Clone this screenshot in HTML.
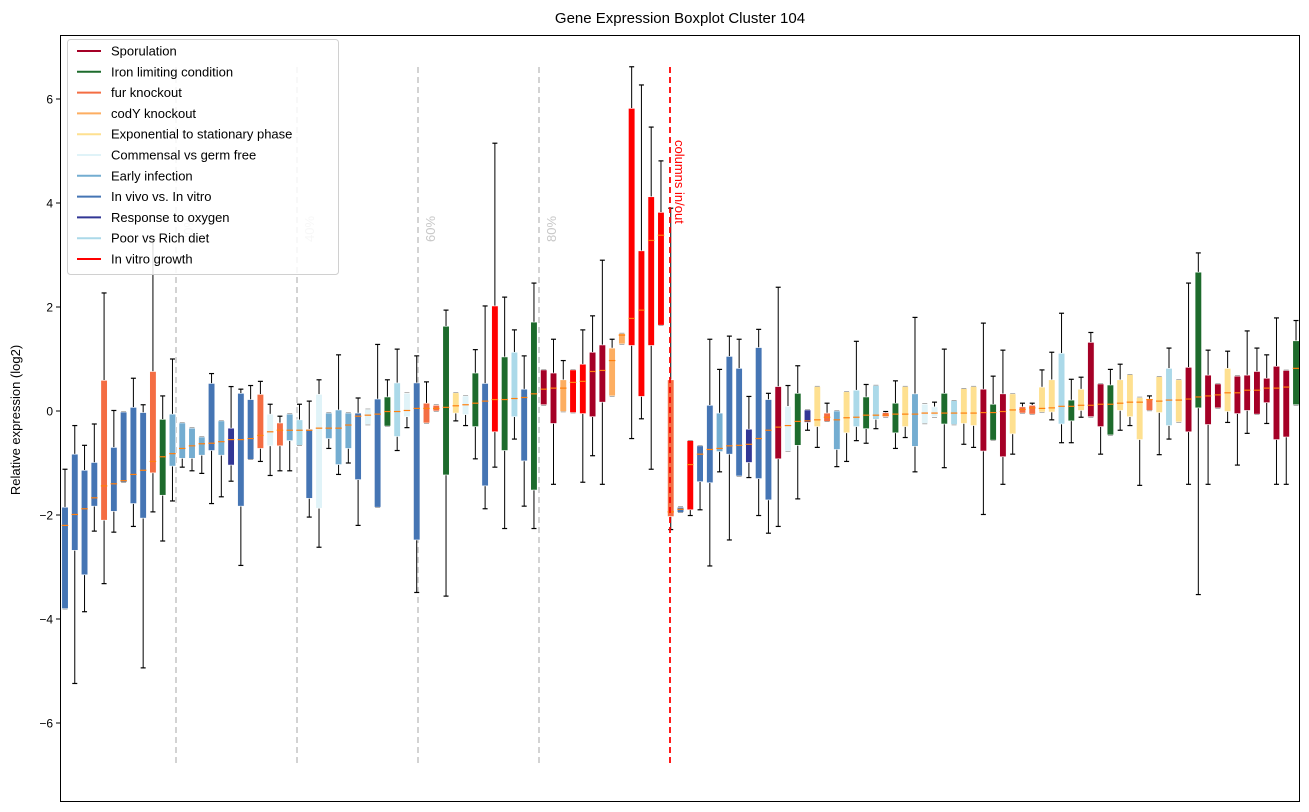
<!DOCTYPE html>
<html><head><meta charset="utf-8"><style>
html,body{margin:0;padding:0;background:#fff;}
svg{display:block;font-family:"Liberation Sans","DejaVu Sans",sans-serif;}
</style></head><body>
<svg id="chart" width="1309" height="812" viewBox="0 0 1309 812">
<text x="680" y="23" text-anchor="middle" font-size="15" fill="#000">Gene Expression Boxplot Cluster 104</text>
<text transform="translate(20,420) rotate(-90)" text-anchor="middle" font-size="13" fill="#000">Relative expression (log2)</text>
<g id="yaxis"></g>
<g id="guides"></g>
<g id="boxes"></g>
<g id="over"></g>
<rect x="60.5" y="35.5" width="1239" height="766" fill="none" stroke="#000" stroke-width="1"/>
<g id="legend"></g>
</svg>
<script>
const categories = ["Sporulation","Iron limiting condition","fur knockout","codY knockout","Exponential to stationary phase","Commensal vs germ free","Early infection","In vivo vs. In vitro","Response to oxygen","Poor vs Rich diet","In vitro growth"];
const catColors = ["#a50026","#1d6b2c","#f46d43","#fdae61","#fee090","#e0f3f8","#74add1","#4575b4","#313695","#abd9e9","#ff0000"];
const boxCats = "VVVVFVVVVFGEEEEVEOVVFCFEPVCEEEVCVGPCVFFGXCGVRGPVGSSDRRSSDDRRRRFVRVVEVVOVVSCGOXFEXPGPFGXECCGPXXSGSXFFXXPGXSSGXXXFXPXSGSSXSSSSSSG";
const hiVals  = [-1.12,-0.28,-0.66,-0.25,2.27,0.01,-0.02,0.63,0.12,3.3,0.29,1.0,-0.23,-0.33,-0.5,0.72,-0.19,0.47,0.42,0.49,0.57,0.13,-0.1,-0.06,0.13,0.19,0.6,-0.04,1.08,-0.04,0.25,0.03,1.28,0.6,1.19,0.34,1.06,0.56,0.11,1.94,0.35,0.29,1.18,2.02,5.15,2.19,1.56,1.06,2.46,0.79,1.38,0.97,0.79,1.56,1.83,2.9,1.38,1.49,6.62,6.27,5.46,4.81,3.9,-1.85,-0.57,-0.67,1.38,0.8,1.44,1.38,0.28,1.57,0.34,2.38,0.49,0.87,0.02,0.47,0.15,0,0.37,1.34,0.51,0.49,-0.01,0.58,0.47,1.8,0.13,0.17,1.19,0.2,0.43,0.47,1.69,0.67,1.17,0.33,0.15,0.15,0.79,1.13,1.88,0.61,0.65,1.51,0.52,0.8,0.9,0.7,0.26,0.29,0.66,1.21,0.6,2.46,3.04,1.17,0.52,1.15,0.67,1.54,1.21,1.08,1.79,0.78,1.74];
const q3Vals  = [-1.85,-0.83,-1.14,-0.99,0.59,-0.7,-0.02,0.07,-0.03,0.76,-0.16,-0.06,-0.23,-0.33,-0.5,0.53,-0.19,-0.33,0.34,0.22,0.32,-0.06,-0.23,-0.06,-0.17,-0.35,0.32,-0.04,0.02,-0.04,-0.04,0.03,0.23,0.27,0.54,0.34,0.54,0.15,0.11,1.63,0.35,0.29,0.73,0.53,2.02,1.04,1.13,0.42,1.71,0.79,0.73,0.6,0.79,0.9,1.13,1.27,1.21,1.49,5.82,3.08,4.12,3.82,0.6,-1.85,-0.57,-0.67,0.11,-0.04,1.05,0.82,-0.35,1.22,0.22,0.47,0.09,0.34,0.02,0.47,-0.04,0,0.37,0.4,0.27,0.49,-0.03,0.15,0.47,0.33,0.13,0.08,0.34,0.2,0.43,0.47,0.42,0.13,0.33,0.33,0.08,0.11,0.46,0.6,1.11,0.21,0.42,1.32,0.52,0.5,0.6,0.7,0.26,0.23,0.66,0.82,0.6,0.84,2.67,0.69,0.52,0.82,0.67,0.69,0.76,0.63,0.86,0.78,1.35];
const medVals = [-2.2,-1.99,-1.88,-1.67,-1.44,-1.4,-1.34,-1.22,-1.14,-0.97,-0.88,-0.82,-0.72,-0.67,-0.63,-0.62,-0.59,-0.55,-0.55,-0.53,-0.47,-0.4,-0.37,-0.37,-0.37,-0.37,-0.33,-0.33,-0.33,-0.27,-0.1,-0.08,-0.06,-0.01,-0.01,0.01,0.05,0.05,0.05,0.07,0.1,0.12,0.15,0.19,0.22,0.22,0.24,0.26,0.33,0.42,0.44,0.44,0.55,0.57,0.76,0.78,0.97,1.46,1.78,1.94,3.28,3.38,-1.94,-1.89,-1.03,-0.83,-0.74,-0.72,-0.67,-0.66,-0.64,-0.53,-0.37,-0.31,-0.28,-0.2,-0.19,-0.17,-0.12,-0.17,-0.13,-0.12,-0.08,-0.08,-0.08,-0.06,-0.06,-0.06,-0.04,-0.04,-0.04,-0.04,-0.04,-0.04,-0.03,-0.03,-0.01,0.02,0.03,0.06,0.05,0.06,0.09,0.09,0.11,0.11,0.13,0.13,0.15,0.17,0.17,0.22,0.19,0.21,0.21,0.23,0.27,0.29,0.31,0.35,0.35,0.4,0.4,0.44,0.44,0.46,0.82];
const q1Vals  = [-3.8,-2.68,-3.15,-1.83,-2.1,-1.93,-1.37,-1.78,-2.06,-1.19,-1.62,-1.06,-0.91,-0.91,-0.85,-0.76,-0.85,-1.04,-1.83,-0.93,-0.72,-0.67,-0.67,-0.57,-0.66,-1.68,-1.87,-0.53,-1.03,-0.72,-1.32,-0.26,-1.85,-0.29,-0.49,-0.11,-2.48,-0.23,0.0,-1.23,-0.04,-0.07,-0.3,-1.44,-0.4,-0.76,-0.11,-0.96,-1.52,0.12,-0.24,-0.01,-0.03,-0.05,-0.11,0.17,0.29,1.29,1.26,0.28,1.26,1.65,-2.03,-1.95,-1.9,-1.36,-1.38,-0.78,-0.83,-1.25,-0.99,-1.3,-1.71,-0.92,-0.77,-0.66,-0.22,-0.3,-0.2,-0.74,-0.42,-0.3,-0.34,-0.16,-0.11,-0.42,-0.3,-0.68,-0.24,-0.11,-0.25,-0.26,-0.24,-0.28,-0.77,-0.56,-0.88,-0.44,-0.04,-0.06,-0.02,-0.02,-0.25,-0.19,0.01,-0.11,-0.3,-0.46,0.01,-0.11,-0.55,0.01,-0.03,-0.28,-0.21,-0.4,0.06,-0.26,0.06,-0.01,-0.05,0.01,-0.06,0.16,-0.55,-0.5,0.12];
const loVals  = [-3.8,-5.24,-3.86,-2.31,-3.32,-2.33,-1.37,-2.22,-4.94,-1.94,-2.5,-1.73,-1.08,-1.15,-1.2,-1.78,-1.65,-1.35,-2.97,-0.93,-0.97,-1.24,-1.15,-1.15,-0.66,-2.04,-2.62,-0.72,-1.22,-1.0,-2.2,-0.26,-1.85,-0.29,-0.76,-0.32,-3.49,-0.23,0.0,-3.56,-0.19,-0.28,-0.92,-1.88,-1.08,-2.26,-0.54,-1.83,-2.26,0.12,-1.41,-0.01,-0.03,-1.37,-0.86,-1.41,0.29,1.29,-0.53,-0.15,-1.12,1.65,-2.28,-1.95,-2.01,-1.9,-2.98,-1.17,-2.48,-1.25,-1.28,-2.01,-2.35,-2.22,-0.77,-1.69,-0.37,-0.7,-0.2,-1.07,-0.97,-0.57,-0.62,-0.34,-0.11,-0.72,-0.51,-1.17,-0.24,-0.11,-1.09,-0.26,-0.64,-0.7,-1.99,-0.56,-1.41,-0.83,-0.04,-0.06,-0.02,-0.17,-0.61,-0.61,-0.12,-0.11,-0.83,-0.46,-0.37,-0.28,-1.43,0.01,-0.84,-0.54,-0.21,-1.41,-3.53,-1.41,0.06,-0.22,-1.04,-0.43,-0.06,-0.24,-1.41,-1.41,0.12];
const yTicks = [-6,-4,-2,0,2,4,6];
const guideLabels = ["20%","40%","60%","80%"];

const NS="http://www.w3.org/2000/svg";
function el(tag, attrs, parent){const e=document.createElementNS(NS,tag);for(const k in attrs)e.setAttribute(k,attrs[k]);parent.appendChild(e);return e;}
const xScale = i => 65 + 9.77*i;
const yScale = v => 411 - 52*v;
const catKey = "SGFDXCEVOPR";

const yaxis=document.getElementById('yaxis');
yTicks.forEach(t=>{
  const y=yScale(t);
  const tk=el('line',{x1:56,x2:60,y1:y,y2:y,stroke:'#000'},yaxis);
  
  
  const lb=el('text',{x:53,y:y+4.5,'text-anchor':'end','font-size':12,fill:'#000'},yaxis);
  lb.textContent=(t<0?'\u2212':'')+Math.abs(t);
  
  
});

const guides=document.getElementById('guides');
guideLabels.forEach((lab,k)=>{
  const xx = 176 + k*121;
  const ln=el('line',{x1:xx,x2:xx,y1:67,y2:767,stroke:'#c8c8c8','stroke-width':1.6,'stroke-dasharray':'6,4'},guides);
  
  
  const tx=el('text',{transform:`translate(${xx+17},242) rotate(-90)`,'font-size':13,fill:'#c8c8c8'},guides);
  tx.textContent=lab;
  
  
});

const boxes=document.getElementById('boxes');
medVals.forEach((m,i)=>{
  const x=xScale(i), w=6.5;
  const col=catColors[catKey.indexOf(boxCats[i])];
  const g=el('g',{},boxes);
  
  
  el('line',{x1:x,x2:x,y1:yScale(hiVals[i]),y2:yScale(loVals[i]),stroke:'#000','stroke-width':1},g);
  el('line',{x1:x-2.5,x2:x+2.5,y1:yScale(hiVals[i]),y2:yScale(hiVals[i]),stroke:'#000','stroke-width':1.2},g);
  el('line',{x1:x-2.5,x2:x+2.5,y1:yScale(loVals[i]),y2:yScale(loVals[i]),stroke:'#000','stroke-width':1.2},g);
  const top=yScale(q3Vals[i]), bot=yScale(q1Vals[i]);
  el('rect',{x:x-w/2,y:top,width:w,height:Math.max(bot-top,2),fill:col,stroke:'#fff','stroke-width':0.6},g);
  el('line',{x1:x-w/2,x2:x+w/2,y1:yScale(m),y2:yScale(m),stroke:'#ff7f0e','stroke-width':1.2},g);
});

const over=document.getElementById('over');
const sx=670;
el('line',{x1:sx,x2:sx,y1:67,y2:767,stroke:'#ff0000','stroke-width':1.8,'stroke-dasharray':'6,4'},over);
const st=el('text',{transform:`translate(${sx+5},140) rotate(90)`,'font-size':13,fill:'#ff0000'},over);
st.textContent='columns in/out';



const legend=document.getElementById('legend');
el('rect',{x:67.5,y:39.5,width:271,height:235,rx:3,fill:'#fff','fill-opacity':0.85,stroke:'#d0d0d0'},legend);
categories.forEach((c,k)=>{
  const y=51+k*20.8;
  const g=el('g',{},legend);
  
  
  el('line',{x1:77,x2:101,y1:y,y2:y,stroke:catColors[k],'stroke-width':2},g);
  const t=el('text',{x:111,y:y+4.5,'font-size':13,fill:'#000'},g);
  t.textContent=c;
});
</script>
</body></html>
